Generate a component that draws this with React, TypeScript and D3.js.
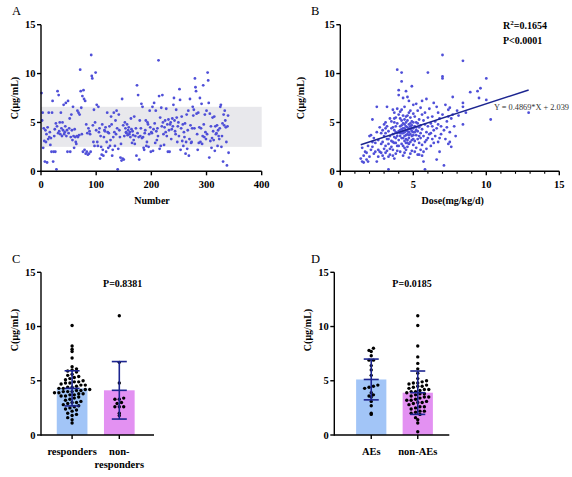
import React from 'react';
import * as d3 from 'd3';

// Panel A: concentration of each patient, in order (x = patient number)
const concA = [
  8.0, 5.2, 6.0, 2.4, 4.4, 3.1, 1.0, 4.2, 3.0, 3.8, 0.9, 4.5, 3.3, 6.0, 3.5, 4.0, 2.7, 3.4, 2.0, 6.0,
  7.2, 1.0, 2.0, 3.6, 4.3, 2.0, 4.9, 0.2, 4.6, 8.2, 3.9, 7.8, 4.1, 5.0, 3.8, 6.0, 4.4, 3.6, 5.0, 4.2,
  6.8, 3.8, 4.0, 4.6, 7.0, 3.6, 4.2, 2.0, 7.2, 3.9, 4.4, 5.4, 2.0, 3.5, 5.8, 4.2, 3.2, 6.6, 3.6, 2.4,
  4.3, 3.5, 3.0, 2.8, 3.6, 6.2, 3.5, 6.0, 3.7, 5.8, 10.4, 8.2, 6.5, 3.8, 7.7, 2.0, 8.3, 7.4, 2.2, 7.2,
  1.8, 4.8, 2.0, 3.9, 1.7, 4.4, 1.8, 4.1, 3.8, 2.0, 11.9, 9.75, 9.5, 4.7, 3.0, 6.3, 2.6, 5.0, 10.1, 4.2,
  6.8, 3.0, 2.6, 6.6, 4.0, 4.4, 1.3, 3.6, 2.5, 1.7, 4.8, 2.2, 1.6, 3.5, 4.2, 4.1, 4.5, 2.0, 3.0, 6.0,
  4.0, 2.4, 3.9, 4.6, 2.6, 3.2, 5.6, 4.8, 1.6, 2.2, 3.5, 6.0, 4.0, 2.6, 5.2, 3.8, 6.2, 4.4, 0.2, 2.3,
  5.8, 4.2, 3.5, 1.4, 2.8, 1.1, 7.4, 1.3, 4.7, 1.2, 3.6, 5.0, 4.4, 4.0, 3.9, 4.8, 3.7, 4.2, 4.5, 3.8,
  4.0, 3.5, 5.4, 4.3, 2.9, 4.1, 3.7, 3.2, 5.6, 2.8, 3.6, 4.4, 1.6, 8.8, 3.9, 7.8, 3.5, 1.2, 5.2, 3.6,
  4.4, 6.9, 3.4, 6.6, 3.5, 2.4, 2.2, 3.9, 4.2, 5.2, 2.6, 3.0, 5.0, 4.8, 2.5, 3.8, 6.2, 4.5, 2.0, 4.0,
  3.9, 6.6, 2.1, 4.3, 7.0, 4.9, 2.9, 6.2, 4.1, 3.2, 4.4, 3.6, 11.35, 7.7, 2.3, 5.5, 2.6, 6.5, 4.6, 7.8,
  5.0, 3.8, 2.7, 4.5, 5.2, 4.0, 6.4, 3.6, 4.8, 2.0, 5.3, 4.2, 2.0, 4.8, 5.0, 3.3, 4.3, 5.4, 4.6, 6.8,
  7.5, 5.2, 4.1, 3.8, 6.3, 5.5, 3.0, 4.6, 5.0, 3.6, 8.4, 7.3, 2.2, 4.4, 5.6, 3.1, 4.8, 2.6, 4.0, 3.5,
  4.9, 1.8, 3.0, 5.8, 2.3, 4.2, 6.2, 1.6, 3.3, 7.4, 4.7, 2.9, 3.0, 4.4, 6.6, 5.7, 6.3, 4.4, 9.5, 8.6,
  8.2, 5.9, 3.8, 2.2, 6.0, 2.9, 4.5, 7.5, 3.0, 4.4, 6.9, 2.8, 3.6, 8.8, 4.8, 3.5, 5.8, 4.0, 3.3, 6.2,
  3.8, 10.1, 9.3, 7.0, 1.4, 5.9, 3.1, 4.6, 2.4, 3.4, 5.5, 4.1, 3.2, 5.6, 2.1, 4.6, 3.8, 3.9, 4.7, 2.6,
  4.2, 3.6, 3.3, 4.4, 6.6, 6.8, 2.5, 3.6, 4.9, 1.0, 5.8, 4.7, 6.2, 5.2, 4.5, 3.0, 0.6, 4.6, 5.7, 1.9,
];
const refRange = [2.5, 6.6];

// Panel B: [dose, concentration]
const doseConc: [number, number][] = [
  [1.4, 1.3], [1.5, 1.0], [1.5, 2.4], [1.6, 0.9], [1.6, 1.6], [1.7, 2.0], [1.8, 1.9], [1.8, 1.2], [1.9, 2.6], [2.0, 1.5], [2.0, 3.6], [1.9, 1.0],
  [2.1, 3.7], [2.2, 5.3], [2.2, 2.5], [2.3, 3.4], [2.3, 1.8], [2.4, 2.9], [2.5, 6.6], [2.5, 1.0], [2.5, 4.0], [2.6, 2.2], [2.6, 3.2], [2.7, 2.0],
  [2.7, 4.5], [2.8, 2.8], [2.8, 3.9], [2.9, 1.6], [2.9, 3.0], [2.9, 4.2], [3.0, 2.3], [3.0, 3.6], [2.4, 2.0], [2.6, 1.5], [2.2, 3.0], [2.8, 1.9], [2.1, 2.2],
  [3.0, 4.8], [3.1, 2.6], [3.1, 5.0], [3.1, 1.9], [3.2, 6.6], [3.2, 3.3], [3.2, 2.1], [3.3, 0.2], [3.3, 4.1], [3.3, 2.8], [3.4, 5.4], [3.4, 3.6],
  [3.4, 1.7], [3.5, 4.4], [3.5, 2.5], [3.5, 3.1], [3.1, 3.9], [3.2, 4.6], [3.3, 1.5], [3.4, 2.3], [3.0, 1.3], [3.5, 5.1], [3.3, 3.3], [3.1, 4.4],
  [3.6, 6.3], [3.6, 3.8], [3.6, 2.2], [3.7, 5.0], [3.7, 4.2], [3.7, 2.9], [3.7, 6.0], [3.8, 3.4], [3.8, 4.6], [3.8, 1.8], [3.8, 5.5], [3.9, 10.4],
  [3.9, 3.9], [3.9, 2.6], [3.9, 4.9], [4.0, 8.3], [4.0, 7.8], [4.0, 3.2], [4.0, 4.1], [4.0, 5.8], [3.6, 4.5], [3.7, 3.5], [3.8, 2.9], [3.9, 3.6],
  [3.6, 1.6], [3.7, 5.4], [3.8, 4.0], [3.9, 6.4], [3.6, 3.0], [3.9, 2.1], [4.0, 2.6], [3.7, 1.3],
  [4.1, 6.1], [4.1, 4.6], [4.1, 3.6], [4.1, 2.0], [4.2, 10.1], [4.2, 9.2], [4.2, 5.2], [4.2, 3.9], [4.2, 2.8], [4.3, 7.5], [4.3, 4.4], [4.3, 3.4],
  [4.3, 5.7], [4.3, 1.6], [4.4, 4.0], [4.4, 4.8], [4.4, 3.1], [4.4, 6.6], [4.4, 2.4], [4.5, 4.2], [4.5, 5.0], [4.5, 3.7], [4.5, 8.2], [4.5, 2.9],
  [4.1, 5.4], [4.2, 4.3], [4.3, 3.9], [4.4, 4.4], [4.5, 4.6], [4.1, 3.9], [4.2, 3.4], [4.3, 4.9], [4.4, 3.6], [4.5, 3.3], [4.1, 4.2], [4.2, 4.7],
  [4.3, 2.6], [4.4, 5.3], [4.5, 5.6], [4.2, 6.3], [4.4, 1.9], [4.5, 2.2], [4.3, 4.1], [4.4, 4.1],
  [4.6, 7.6], [4.6, 4.5], [4.6, 3.8], [4.6, 5.2], [4.6, 2.5], [4.7, 7.2], [4.7, 4.0], [4.7, 4.8], [4.7, 3.4], [4.7, 6.0], [4.8, 4.3], [4.8, 3.0],
  [4.8, 5.5], [4.8, 1.8], [4.9, 8.7], [4.9, 4.1], [4.9, 4.7], [4.9, 3.6], [4.9, 2.1], [5.0, 5.9], [5.0, 4.4], [5.0, 3.3], [5.0, 2.7], [5.0, 6.8],
  [4.6, 4.1], [4.7, 4.4], [4.8, 3.8], [4.9, 5.1], [5.0, 4.0], [4.6, 3.2], [4.7, 2.8], [4.8, 4.9], [4.9, 3.2], [5.0, 5.0], [4.6, 5.7], [4.7, 3.7],
  [4.8, 4.6], [4.9, 4.4], [4.8, 6.2], [4.7, 1.4], [4.6, 2.9], [5.0, 3.7],
  [5.1, 4.6], [5.1, 3.1], [5.1, 5.6], [5.2, 6.9], [5.2, 4.2], [5.2, 2.4], [5.2, 3.7], [5.3, 4.9], [5.3, 3.3], [5.3, 1.7], [5.3, 6.2], [5.4, 4.5],
  [5.4, 2.9], [5.4, 5.3], [5.5, 3.9], [5.5, 6.5], [5.5, 2.2], [5.5, 4.7], [5.1, 4.0], [5.2, 5.0], [5.3, 4.1], [5.4, 3.6], [5.1, 2.0], [5.4, 1.7],
  [5.5, 3.4], [5.2, 4.5],
  [5.6, 7.2], [5.6, 4.3], [5.6, 2.7], [5.7, 1.0], [5.7, 5.2], [5.7, 3.6], [5.8, 0.2], [5.8, 4.8], [5.8, 3.0], [5.8, 6.0], [5.9, 7.4], [5.9, 4.0],
  [5.9, 2.3], [6.0, 10.1], [6.0, 5.5], [6.0, 3.4], [6.0, 4.6], [5.6, 5.8], [5.7, 2.0], [5.9, 3.2], [5.6, 1.6],
  [6.1, 6.4], [6.1, 3.8], [6.2, 4.9], [6.2, 2.6], [6.3, 5.6], [6.3, 3.3], [6.4, 4.2], [6.4, 7.0], [6.5, 3.6], [6.5, 5.1], [6.6, 1.2], [6.6, 4.4],
  [6.6, 6.6], [6.7, 3.0], [6.7, 6.0], [6.7, 4.8], [6.8, 2.0], [6.8, 5.4], [6.9, 3.8], [6.9, 4.6], [7.0, 11.9], [7.0, 9.7], [7.0, 9.5], [7.0, 5.8],
  [6.2, 3.9], [6.4, 2.9], [6.8, 3.4], [6.3, 4.6],
  [7.1, 0.6], [7.1, 4.2], [7.2, 6.8], [7.2, 3.3], [7.3, 5.1], [7.3, 4.5], [7.4, 2.8], [7.4, 6.3], [7.5, 3.0], [7.5, 6.5], [7.5, 4.0], [7.6, 5.4],
  [7.7, 5.8], [7.7, 7.6], [7.8, 4.6], [7.9, 3.6], [7.4, 5.6], [7.6, 2.5],
  [8.1, 5.7], [8.4, 11.3], [8.4, 7.0], [8.4, 6.6], [8.4, 4.8], [8.9, 8.1], [9.4, 8.2], [9.5, 7.5], [9.6, 8.5], [10.0, 9.5], [10.0, 7.3],
  [10.3, 5.3], [12.9, 6.0], [8.0, 6.2], [8.6, 6.0],
];
const fitSlope = 0.4869;
const fitIntercept = 2.039;

// Panel C
const groupsC = ['responders', 'non-responders'];
const responders = [
  10.1, 8.2, 7.9, 7.7, 7.1, 6.3, 6.1, 6.0, 5.9, 5.8, 5.6, 5.5, 5.3, 5.2, 5.1, 5.0, 4.9, 4.8, 4.8, 4.7, 4.6, 4.5,
  4.4, 4.4, 4.3, 4.2, 4.2, 4.1, 4.1, 4.0, 4.0, 4.0, 3.9, 3.9, 3.8, 3.8, 3.7, 3.6, 3.6, 3.5, 3.4, 3.3, 3.2, 3.1,
  3.0, 3.0, 2.9, 2.8, 2.7, 2.6, 2.5, 2.4, 2.3, 2.2, 2.0, 1.9, 1.8, 1.6, 1.4, 1.1, 4.6, 4.3, 3.7, 4.9, 5.4,
];
const nonResponders = [11.0, 6.7, 4.8, 3.4, 3.3, 3.3, 3.0, 2.9, 2.6, 2.6, 2.6, 2.0, 1.8];
const meanC = [4.3, 4.12];
const sdC = [1.62, 2.65];

// Panel D
const groupsD = ['AEs', 'non-AEs'];
const aes = [8.0, 7.8, 7.7, 7.3, 6.9, 6.9, 6.4, 6.0, 5.5, 4.6, 4.5, 4.4, 4.3, 3.9, 3.7, 3.6, 3.5, 3.1, 2.7, 2.0, 1.9];
const nonAes = [
  11.0, 10.1, 8.2, 7.2, 6.6, 6.1, 5.7, 5.2, 5.0, 4.9, 4.8, 4.8, 4.7, 4.6, 4.5, 4.5, 4.4, 4.3, 4.2, 4.2, 4.1, 4.0,
  4.0, 3.9, 3.8, 3.8, 3.7, 3.6, 3.5, 3.5, 3.4, 3.3, 3.2, 3.2, 3.1, 3.0, 3.0, 2.9, 2.8, 2.6, 2.6, 2.5, 2.4, 2.2,
  2.2, 2.1, 2.0, 1.9, 1.6, 1.4, 1.1, 0.3,
];
const meanD = [5.12, 3.9];
const sdD = [1.88, 2.0];

const yTicks = [0, 5, 10, 15];
const numberTicks = [0, 100, 200, 300, 400];
const doseTicks = [0, 5, 10, 15];
const doseMinor = [1, 2, 3, 4, 6, 7, 8, 9, 11, 12, 13, 14];

const FONT = "'Liberation Serif', 'Times New Roman', serif";
const DOT = '#4f4fd8';
const NAVY = '#1c2590';
const barColors = ['#a2c5f7', '#e391f2'];

function LeftAxis({ x, y }: { x: number; y: d3.ScaleLinear<number, number> }) {
  return (
    <g>
      <line x1={x} x2={x} y1={y(0) + 0.7} y2={y(15)} stroke="#000" strokeWidth={1.4} />
      {yTicks.map((t) => (
        <g key={t}>
          <line x1={x - 4} x2={x} y1={y(t)} y2={y(t)} stroke="#000" strokeWidth={1.4} />
          <text x={x - 5.5} y={y(t) + 3.6} textAnchor="end" fontSize={10.5} fontWeight="bold">
            {t}
          </text>
        </g>
      ))}
    </g>
  );
}

function YTitle({ x, y }: { x: number; y: number }) {
  return (
    <text transform={`translate(${x},${y}) rotate(-90)`} textAnchor="middle" fontSize={10} fontWeight="bold">
      C(μg/mL)
    </text>
  );
}

// simple GraphPad-like scatter-dot layout
function swarm(values: number[], y: d3.ScaleLinear<number, number>, cx: number, step = 4.4, rowH = 4.2) {
  const rows = d3.group([...values].sort((a, b) => a - b), (v) => Math.round(y(v) / rowH));
  const out: { x: number; y: number }[] = [];
  rows.forEach((vs) => {
    vs.forEach((v, i) => out.push({ x: cx + (i - (vs.length - 1) / 2) * step, y: y(v) }));
  });
  return out;
}

function BarPanel({
  groups, values, means, sds, x0, x1, axisEnd, padOuter, labels,
}: {
  groups: string[]; values: number[][]; means: number[]; sds: number[];
  x0: number; x1: number; axisEnd: number; padOuter: number; labels: string[][];
}) {
  const y = d3.scaleLinear([0, 15], [435, 272.3]);
  const x = d3.scaleBand(groups, [x0, x1]).paddingInner(0.35).paddingOuter(padOuter);
  const bw = x.bandwidth();
  return (
    <g>
      {groups.map((g, i) => {
        const cx = (x(g) as number) + bw / 2;
        return (
          <g key={g}>
            <rect x={x(g)} y={y(means[i])} width={bw} height={y(0) - y(means[i])} fill={barColors[i]} />
            {swarm(values[i], y, cx).map((p, j) => (
              <circle key={j} cx={p.x} cy={p.y} r={1.7} fill="#000" />
            ))}
            <line x1={cx} x2={cx} y1={y(means[i] - sds[i])} y2={y(means[i] + sds[i])} stroke={NAVY} strokeWidth={1.6} />
            <line x1={cx - 7.5} x2={cx + 7.5} y1={y(means[i] + sds[i])} y2={y(means[i] + sds[i])} stroke={NAVY} strokeWidth={1.6} />
            <line x1={cx - 7.5} x2={cx + 7.5} y1={y(means[i] - sds[i])} y2={y(means[i] - sds[i])} stroke={NAVY} strokeWidth={1.6} />
            <line x1={cx - 7.5} x2={cx + 7.5} y1={y(means[i])} y2={y(means[i])} stroke={NAVY} strokeWidth={1.6} />
            <line x1={cx} x2={cx} y1={y(0)} y2={y(0) + 4} stroke="#000" strokeWidth={1.4} />
            {labels[i].map((l, k) => (
              <text key={k} x={cx} y={y(0) + 19.5 + k * 13} textAnchor="middle" fontSize={10.5} fontWeight="bold">
                {l}
              </text>
            ))}
          </g>
        );
      })}
      <line x1={x0} x2={axisEnd} y1={y(0)} y2={y(0)} stroke="#000" strokeWidth={1.4} />
      <LeftAxis x={x0} y={y} />
    </g>
  );
}

export default function App() {
  const xA = d3.scaleLinear([0, 400], [41, 261.7]);
  const yA = d3.scaleLinear([0, 15], [171.3, 24.7]);
  const xB = d3.scaleLinear([0, 15], [340.3, 559.3]);
  const yB = yA;
  const doseExtent = d3.extent(doseConc, (d) => d[0]) as [number, number];

  return (
    <svg
      width={572}
      height={477}
      style={{ position: 'absolute', left: 0, top: 0, background: '#fff' }}
      fontFamily={FONT}
    >
      <rect width={572} height={477} fill="#fff" />

      {/* Panel A */}
      <text x={12} y={15} fontSize={12.5}>A</text>
      <rect x={xA(0)} y={yA(refRange[1])} width={xA(400) - xA(0)} height={yA(refRange[0]) - yA(refRange[1])} fill="#e8e8ec" />
      {concA.map((c, i) => (
        <circle key={i} cx={xA(i + 1)} cy={yA(c)} r={1.4} fill={DOT} />
      ))}
      <line x1={xA(0) - 0.7} x2={xA(400)} y1={yA(0)} y2={yA(0)} stroke="#000" strokeWidth={1.4} />
      {numberTicks.map((t) => (
        <g key={t}>
          <line x1={xA(t)} x2={xA(t)} y1={yA(0)} y2={yA(0) + 4} stroke="#000" strokeWidth={1.4} />
          <text x={xA(t)} y={yA(0) + 16.5} textAnchor="middle" fontSize={10.5} fontWeight="bold">{t}</text>
        </g>
      ))}
      <LeftAxis x={xA(0)} y={yA} />
      <text x={152} y={204} textAnchor="middle" fontSize={10} fontWeight="bold">Number</text>
      <YTitle x={17.5} y={98} />

      {/* Panel B */}
      <text x={311} y={15} fontSize={12.5}>B</text>
      {doseConc.map(([d, c], i) => (
        <circle key={i} cx={xB(d)} cy={yB(c)} r={1.4} fill={DOT} />
      ))}
      <line
        x1={xB(doseExtent[0])}
        x2={xB(doseExtent[1])}
        y1={yB(fitSlope * doseExtent[0] + fitIntercept)}
        y2={yB(fitSlope * doseExtent[1] + fitIntercept)}
        stroke={NAVY}
        strokeWidth={1.5}
      />
      <line x1={xB(0) - 0.7} x2={xB(15)} y1={yB(0)} y2={yB(0)} stroke="#000" strokeWidth={1.4} />
      {doseTicks.map((t) => (
        <g key={t}>
          <line x1={xB(t)} x2={xB(t)} y1={yB(0)} y2={yB(0) + 4} stroke="#000" strokeWidth={1.4} />
          <text x={xB(t)} y={yB(0) + 16.5} textAnchor="middle" fontSize={10.5} fontWeight="bold">{t}</text>
        </g>
      ))}
      {doseMinor.map((t) => (
        <line key={t} x1={xB(t)} x2={xB(t)} y1={yB(0)} y2={yB(0) + 2.5} stroke="#000" strokeWidth={1.1} />
      ))}
      <LeftAxis x={xB(0)} y={yB} />
      <text x={452.7} y={204} textAnchor="middle" fontSize={10} fontWeight="bold">Dose(mg/kg/d)</text>
      <YTitle x={304} y={98} />
      <text x={503} y={28.5} fontSize={10} fontWeight="bold">
        R<tspan dy={-4} fontSize={7}>2</tspan>
        <tspan dy={4}>=0.1654</tspan>
      </text>
      <text x={503} y={43.5} fontSize={10} fontWeight="bold">P&lt;0.0001</text>
      <text x={494} y={110} fontSize={8.3} fill="#333">Y = 0.4869*X + 2.039</text>

      {/* Panel C */}
      <text x={12} y={263} fontSize={12.5}>C</text>
      <BarPanel
        groups={groupsC}
        values={[responders, nonResponders]}
        means={meanC}
        sds={sdC}
        x0={41}
        x1={150.4}
        axisEnd={154}
        padOuter={0.334}
        labels={[['responders'], ['non-', 'responders']]}
      />
      <text x={122.7} y={287} textAnchor="middle" fontSize={10} fontWeight="bold">P=0.8381</text>
      <YTitle x={17.5} y={330} />

      {/* Panel D */}
      <text x={311} y={263} fontSize={12.5}>D</text>
      <BarPanel
        groups={groupsD}
        values={[aes, nonAes]}
        means={meanD}
        sds={sdD}
        x0={334.3}
        x1={454.7}
        axisEnd={449.3}
        padOuter={0.469}
        labels={[['AEs'], ['non-AEs']]}
      />
      <text x={412} y={287} textAnchor="middle" fontSize={10} fontWeight="bold">P=0.0185</text>
      <YTitle x={310.5} y={330} />
    </svg>
  );
}
